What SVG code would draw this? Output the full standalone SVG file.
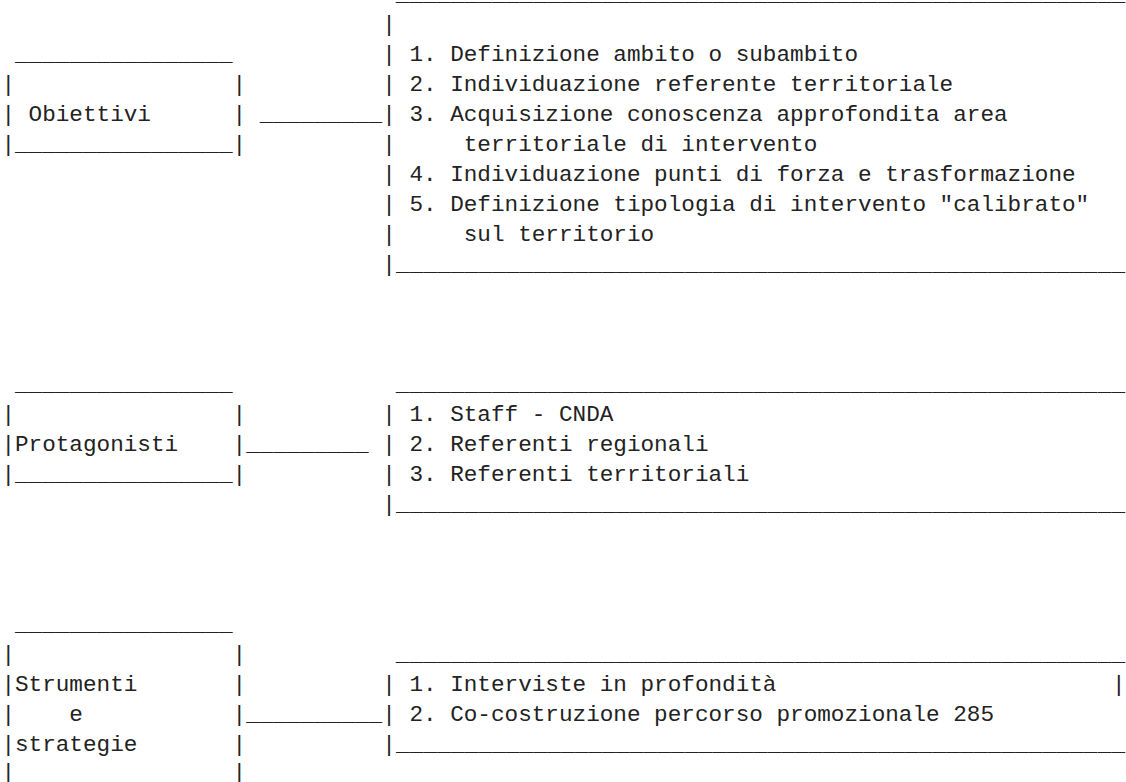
<svg xmlns="http://www.w3.org/2000/svg" width="1126" height="782" viewBox="0 0 1126 782" xml:space="preserve">
<style>
  text { font-family: "Liberation Mono", "Courier New", monospace; font-size: 22.667px; fill: #222; white-space: pre; }
  .rule { font-size: 22.667px; }
</style>
<rect x="0" y="0" width="1126" height="782" fill="#ffffff"/>

<g id="connectors">
  <text x="259.8" y="121">_________</text>
  <text x="246.2" y="451">_________</text>
  <text x="246.2" y="721">__________</text>
</g>

<g id="obiettivi">
  <text x="15" y="61">________________</text>
  <text x="1.4" y="91">|</text><text x="232.6" y="91">|</text>
  <text x="1.4" y="121">| Obiettivi</text><text x="232.6" y="121">|</text>
  <text x="1.4" y="151">|________________|</text>
</g>

<g id="obiettivi-dettagli">
  <text class="rule" x="395.8" y="1" textLength="729.2" lengthAdjust="spacing">_____________________________________________________</text>
  <text x="382.2" y="31">|</text>
  <text x="382.2" y="61">| 1. Definizione ambito o subambito</text>
  <text x="382.2" y="91">| 2. Individuazione referente territoriale</text>
  <text x="382.2" y="121">| 3. Acquisizione conoscenza approfondita area</text>
  <text x="382.2" y="151">|     territoriale di intervento</text>
  <text x="382.2" y="181">| 4. Individuazione punti di forza e trasformazione</text>
  <text x="382.2" y="211">| 5. Definizione tipologia di intervento "calibrato"</text>
  <text x="382.2" y="241">|     sul territorio</text>
  <text class="rule" x="382.2" y="271" textLength="742.8" lengthAdjust="spacing">|_____________________________________________________</text>
</g>

<g id="protagonisti">
  <text x="15" y="391">________________</text>
  <text x="1.4" y="421">|</text><text x="232.6" y="421">|</text>
  <text x="1.4" y="451">|Protagonisti</text><text x="232.6" y="451">|</text>
  <text x="1.4" y="481">|________________|</text>
</g>

<g id="protagonisti-dettagli">
  <text class="rule" x="395.8" y="391" textLength="729.2" lengthAdjust="spacing">_____________________________________________________</text>
  <text x="382.2" y="421">| 1. Staff - CNDA</text>
  <text x="382.2" y="451">| 2. Referenti regionali</text>
  <text x="382.2" y="481">| 3. Referenti territoriali</text>
  <text class="rule" x="382.2" y="511" textLength="742.8" lengthAdjust="spacing">|_____________________________________________________</text>
</g>

<g id="strumenti">
  <text x="15" y="631">________________</text>
  <text x="1.4" y="661">|</text><text x="232.6" y="661">|</text>
  <text x="1.4" y="691">|Strumenti</text><text x="232.6" y="691">|</text>
  <text x="1.4" y="721">|    e</text><text x="232.6" y="721">|</text>
  <text x="1.4" y="751">|strategie</text><text x="232.6" y="751">|</text>
  <text x="1.4" y="779">|</text><text x="232.6" y="779">|</text>
</g>

<g id="strumenti-dettagli">
  <text class="rule" x="395.8" y="661" textLength="729.2" lengthAdjust="spacing">_____________________________________________________</text>
  <text x="382.2" y="691">| 1. Interviste in profondità</text><text x="1112" y="691">|</text>
  <text x="382.2" y="721">| 2. Co-costruzione percorso promozionale 285</text>
  <text class="rule" x="382.2" y="751" textLength="742.8" lengthAdjust="spacing">|_____________________________________________________</text>
</g>
</svg>
